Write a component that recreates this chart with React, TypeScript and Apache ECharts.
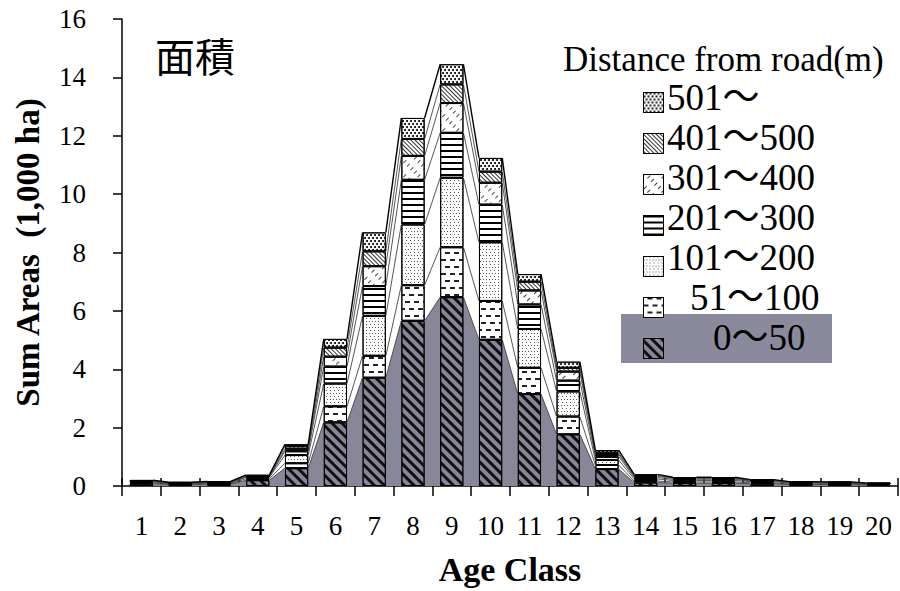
import React, { useEffect, useRef } from "react";
import * as echarts from "echarts";

const categories = ["1","2","3","4","5","6","7","8","9","10","11","12","13","14","15","16","17","18","19","20"];
const seriesNames = ["0～50", "51～100", "101～200", "201～300", "301～400", "401～500", "501～"];
const legendOrder = ["501～", "401～500", "301～400", "201～300", "101～200", "51～100", "0～50"];
const yTicks = { min: 0, max: 16, interval: 2 };

const d0_50 = [0.08,0.05,0.06,0.20,0.61,2.18,3.71,5.66,6.47,5.01,3.15,1.77,0.58,0.12,0.10,0.10,0.08,0.05,0.05,0.03];
const d51_100 = [0.03,0.02,0.02,0.05,0.17,0.55,0.75,1.22,1.71,1.33,0.90,0.61,0.14,0.05,0.04,0.04,0.03,0.02,0.02,0.02];
const d101_200 = [0.03,0.02,0.02,0.05,0.28,0.78,1.37,2.08,2.38,2.01,1.33,0.86,0.17,0.07,0.05,0.05,0.04,0.03,0.02,0.02];
const d201_300 = [0.02,0.01,0.02,0.02,0.13,0.58,1.02,1.53,1.54,1.29,0.84,0.37,0.13,0.05,0.04,0.04,0.02,0.02,0.02,0.01];
const d301_400 = [0.01,0.01,0.01,0.02,0.07,0.34,0.68,0.82,1.02,0.75,0.48,0.31,0.07,0.04,0.03,0.03,0.02,0.01,0.01,0.01];
const d401_500 = [0.01,0.01,0.01,0.01,0.10,0.31,0.51,0.58,0.64,0.38,0.30,0.13,0.05,0.03,0.02,0.02,0.01,0.01,0.01,0.00];
const d501 = [0.02,0.01,0.02,0.03,0.07,0.30,0.65,0.72,0.69,0.47,0.26,0.21,0.09,0.04,0.02,0.02,0.02,0.01,0.01,0.01];

const layers = [d0_50, d51_100, d101_200, d201_300, d301_400, d401_500, d501];

const GRAY = "#878799";
const SERIF = "Liberation Serif";
const SERIF_CJK = "'Liberation Serif', 'Noto Sans CJK JP', serif";
const CJK = "Noto Sans CJK JP";

const decals: any[] = [
  { symbol: "rect", symbolSize: 1, dashArrayX: [1, 0], dashArrayY: [3, 4], rotation: Math.PI / 4, color: "#111" },
  { symbol: "rect", symbolSize: 1, dashArrayX: [[5, 4], [0, 4, 5, 0]], dashArrayY: [1.2, 5], color: "#222" },
  { symbol: "rect", symbolSize: 1, dashArrayX: [[1, 2], [0, 1.5, 1, 0.5]], dashArrayY: [1, 1.5], color: "#555" },
  { symbol: "rect", symbolSize: 1, dashArrayX: [1, 0], dashArrayY: [1.2, 4], color: "#000" },
  { symbol: "rect", symbolSize: 1, dashArrayX: [4, 6], dashArrayY: [1, 4], rotation: -Math.PI / 4, color: "#444" },
  { symbol: "rect", symbolSize: 1, dashArrayX: [1, 0], dashArrayY: [1, 2], rotation: Math.PI / 4, color: "#333" },
  { symbol: "circle", symbolSize: 1, dashArrayX: [[2, 1.5], [0, 1.8, 2, 0]], dashArrayY: [2, 0.5], color: "#000" },
];
const fills = [GRAY, "#fff", "#fff", "#fff", "#fff", "#fff", "#fff"];

export default function App() {
  const ref = useRef<HTMLDivElement>(null);
  useEffect(() => {
    const chart = echarts.init(ref.current!, null, { renderer: "svg" });
    const cum: number[][] = [];
    layers.forEach((arr, k) => {
      cum.push(arr.map((v, i) => (k === 0 ? 0 : cum[k - 1][i]) + v));
    });

    const barSeries = seriesNames.map((name, k) => ({
      name,
      type: "bar",
      stack: "total",
      barWidth: "60%",
      xAxisIndex: 0,
      yAxisIndex: 0,
      z: 3,
      data: layers[k],
      itemStyle: {
        color: fills[k],
        borderColor: "#000",
        borderWidth: 1,
        decal: decals[k],
      },
    }));

    const connector = {
      type: "custom",
      name: "connector",
      xAxisIndex: 0,
      yAxisIndex: 0,
      z: 2,
      silent: true,
      data: categories.slice(0, -1).map((_, i) => [i, 0]),
      renderItem: (params: any, api: any) => {
        const i = params.dataIndex;
        const band = api.size([1, 0])[0];
        const half = band * 0.3;
        const b0 = api.coord([i, 0]);
        const b1 = api.coord([i + 1, 0]);
        const xr = b0[0] + half;
        const xl = b1[0] - half;
        const children: any[] = [];
        const pA = api.coord([i, cum[0][i]]);
        const pB = api.coord([i + 1, cum[0][i + 1]]);
        children.push({
          type: "polygon",
          shape: { points: [[xr, b0[1]], [xr, pA[1]], [xl, pB[1]], [xl, b1[1]]] },
          style: { fill: GRAY, stroke: null },
        });
        for (let k = 0; k < cum.length; k++) {
          const a = api.coord([i, cum[k][i]]);
          const b = api.coord([i + 1, cum[k][i + 1]]);
          children.push({
            type: "line",
            shape: { x1: xr, y1: a[1], x2: xl, y2: b[1] },
            style: { stroke: k === cum.length - 1 ? "#000" : "#444", lineWidth: k === cum.length - 1 ? 1.4 : 0.9 },
          });
        }
        return { type: "group", children };
      },
    };

    const legendTextX: Record<string, number> = { "51～100": 690, "0～50": 713 };
    const legendTexts = legendOrder.map((name, k) => ({
      type: "text",
      z: 12,
      x: legendTextX[name] ?? 667,
      y: 97 + 40 * k,
      style: { text: name, fontSize: 37, fontFamily: SERIF_CJK, fill: "#000", verticalAlign: "middle", align: "left" },
    }));

    chart.setOption({
      animation: false,
      backgroundColor: "#fff",
      grid: { left: 122, right: 2, top: 19, bottom: 103, containLabel: false },
      title: {
        text: "面積",
        left: 150,
        top: 30,
        textStyle: { fontSize: 40, fontWeight: "normal", fontFamily: CJK, color: "#000" },
      },
      legend: {
        data: legendOrder,
        orient: "vertical",
        left: 638,
        top: 87,
        itemWidth: 20,
        itemHeight: 20,
        itemGap: 20,
        icon: "rect",
        z: 10,
        selectedMode: false,
        itemStyle: { borderColor: "#000", borderWidth: 1 },
        textStyle: { fontSize: 1, color: "rgba(0,0,0,0)", lineHeight: 1 },
        formatter: () => "",
      },
      graphic: [
        { type: "rect", z: 0, shape: { x: 621, y: 314, width: 211, height: 49 }, style: { fill: "#8b8a9c" } },
        {
          type: "text",
          z: 5,
          left: 563,
          top: 42,
          style: { text: "Distance from road(m)", fontSize: 35, fontFamily: SERIF, fill: "#000" },
        },
        ...legendTexts,
      ],
      xAxis: [
        {
          type: "category",
          data: categories,
          position: "bottom",
          name: "Age Class",
          nameLocation: "middle",
          nameGap: 66,
          nameTextStyle: { fontSize: 34, fontWeight: "bold", fontFamily: SERIF, color: "#000" },
          axisLine: { show: true, lineStyle: { color: "#000", width: 1.5 } },
          axisTick: { show: true, length: 10, lineStyle: { color: "#000", width: 1.5 } },
          axisLabel: { fontSize: 27, fontFamily: SERIF, color: "#000", margin: 26, interval: 0 },
          splitLine: { show: false },
        },
        {
          type: "category",
          data: categories,
          position: "bottom",
          axisLine: { show: false },
          axisTick: { show: true, inside: true, length: 8, lineStyle: { color: "#000", width: 1.5 } },
          axisLabel: { show: false },
          splitLine: { show: false },
        },
      ],
      yAxis: {
        type: "value",
        min: yTicks.min,
        max: yTicks.max,
        interval: yTicks.interval,
        name: "Sum Areas  (1,000 ha)",
        nameLocation: "middle",
        nameGap: 78,
        nameTextStyle: { fontSize: 33, fontWeight: "bold", fontFamily: SERIF, color: "#000" },
        axisLine: { show: true, lineStyle: { color: "#000", width: 1.5 } },
        axisTick: { show: true, length: 9, lineStyle: { color: "#000", width: 1.5 } },
        axisLabel: { fontSize: 27, fontFamily: SERIF, color: "#000", margin: 36 },
        splitLine: { show: false },
      },
      series: [connector, ...barSeries],
    });
    return () => chart.dispose();
  }, []);
  return <div ref={ref} style={{ position: "fixed", left: 0, top: 0, width: 900, height: 591 }} />;
}
